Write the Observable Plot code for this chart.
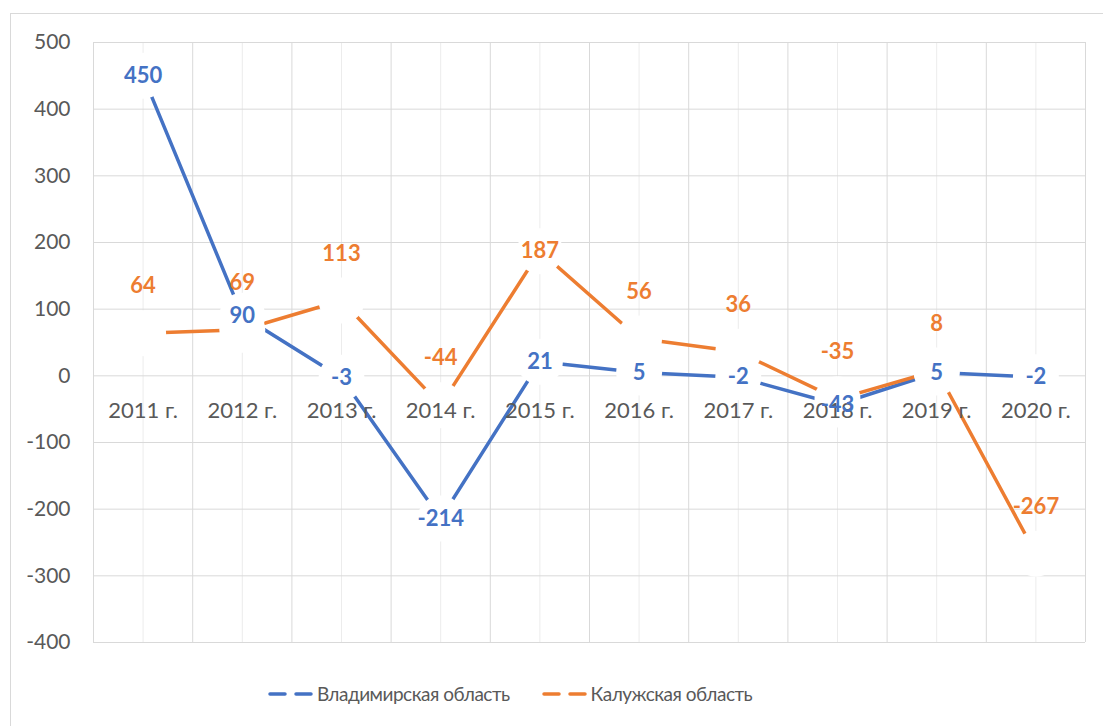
<!DOCTYPE html>
<html><head><meta charset="utf-8">
<script src="https://cdn.jsdelivr.net/npm/d3@7"></script>
<script src="https://cdn.jsdelivr.net/npm/@observablehq/plot@0.6"></script>
<style>
body{margin:0;background:#fff;overflow:hidden;width:1103px;height:726px;position:relative;font-family:Lato,"Open Sans",sans-serif}
#frame{position:absolute;left:10px;top:13px;width:1200px;height:800px;border:1px solid #d9d9d9;box-sizing:border-box}
#chart{position:absolute;left:0;top:0}
#legend{position:absolute;top:682px;left:268px;display:flex;align-items:center;font-size:19px;letter-spacing:-0.5px;color:#595959;white-space:nowrap}
#legend .item{display:flex;align-items:center;margin-right:32px}
#legend svg{margin-right:3px}
</style>
</head><body>
<div id="frame"></div>
<div id="chart"></div>
<div id="legend"></div>
<script>
// ---- data ----
const years = [2011, 2012, 2013, 2014, 2015, 2016, 2017, 2018, 2019, 2020];
const yearLabels = ["2011 г.", "2012 г.", "2013 г.", "2014 г.", "2015 г.", "2016 г.", "2017 г.", "2018 г.", "2019 г.", "2020 г."];
const vladimir = [450, 90, -3, -214, 21, 5, -2, -43, 5, -2];
const kaluga = [64, 69, 113, -44, 187, 56, 36, -35, 8, -267];
const yTicks = [-400, -300, -200, -100, 0, 100, 200, 300, 400, 500];
const seriesNames = ["Владимирская область", "Калужская область"];
const colors = ["#4472C4", "#ED7D31"];

const vData = years.map((y, i) => ({year: y, value: vladimir[i]}));
const kData = years.map((y, i) => ({year: y, value: kaluga[i]}));
const allData = vData.concat(kData);
const boundaries = [years[0] - 0.5].concat(years.map(y => y + 0.5));
// the 2015 label for Калужская область sits on its point in the reference
const centeredK = kData.filter(d => d.year === 2015);
const aboveK = kData.filter(d => d.year !== 2015);

const fam = "Lato, 'Open Sans', sans-serif";
const labelFont = {fontFamily: fam, fontWeight: "bold", fontSize: 22};

const chart = Plot.plot({
  width: 1103,
  height: 665,
  marginLeft: 93,
  marginRight: 18,
  marginTop: 42,
  marginBottom: 23,
  style: {fontFamily: fam, background: "transparent"},
  x: {type: "linear", domain: [years[0] - 0.5, years[years.length - 1] + 0.5], axis: null},
  y: {domain: [-400, 500], axis: null},
  marks: [
    Plot.ruleX(years, {stroke: "#ececec", strokeWidth: 1}),
    Plot.ruleX(boundaries, {stroke: "#d9d9d9", strokeWidth: 1}),
    Plot.ruleY(yTicks, {stroke: "#d9d9d9", strokeWidth: 1}),
    Plot.axisY(yTicks, {tickSize: 0, tickPadding: 23, fontSize: 21, fill: "#595959", label: null, tickFormat: d => String(d)}),
    Plot.line(vData, {x: "year", y: "value", stroke: colors[0], strokeWidth: 3.5}),
    Plot.line(kData, {x: "year", y: "value", stroke: colors[1], strokeWidth: 3.5}),
    Plot.dot(allData, {x: "year", y: "value", r: 23, fill: "white", stroke: "none"}),
    Plot.text(years, {x: d => d, y: () => 0, dy: 35, text: (d, i) => yearLabels[i], fontSize: 22, fill: "#595959", fontFamily: fam}),
    Plot.text(vData, {x: "year", y: "value", text: d => String(d.value), fill: colors[0], ...labelFont}),
    Plot.text(aboveK, {x: "year", y: "value", dy: -47, text: d => String(d.value), fill: colors[1], ...labelFont}),
    Plot.text(centeredK, {x: "year", y: "value", text: d => String(d.value), fill: colors[1], ...labelFont})
  ]
});
document.getElementById("chart").appendChild(chart);

const legend = document.getElementById("legend");
seriesNames.forEach((name, i) => {
  const item = document.createElement("div");
  item.className = "item";
  item.innerHTML = `<svg width="46" height="10"><line x1="2" y1="5" x2="17" y2="5" stroke="${colors[i]}" stroke-width="3.5" stroke-linecap="round"/><line x1="28" y1="5" x2="43" y2="5" stroke="${colors[i]}" stroke-width="3.5" stroke-linecap="round"/></svg><span>${name}</span>`;
  legend.appendChild(item);
});
</script>
</body></html>
